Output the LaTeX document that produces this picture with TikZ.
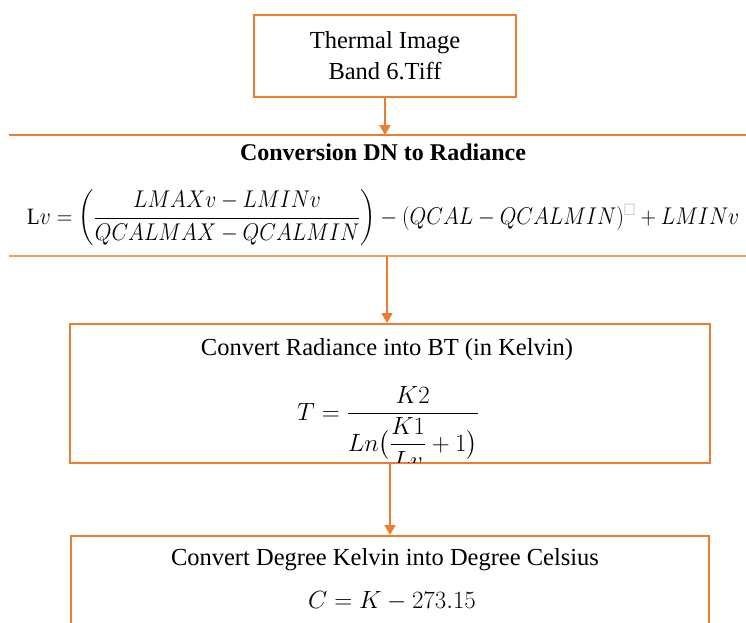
\documentclass[tikz,border=0pt]{standalone}
\usepackage{amsmath,amssymb}
\usepackage{fontspec}
\setmainfont{Liberation Serif}
\usetikzlibrary{arrows.meta}
\definecolor{orng}{HTML}{ED7D31}
\begin{document}
\begin{tikzpicture}[x=1pt,y=-1pt,
  boxline/.style={draw=orng, line width=1.8pt},
  thinline/.style={draw=orng!75, line width=1.3pt},
  flow/.style={draw=orng, line width=1.6pt, -{Triangle[length=10pt,width=11pt]}},
  txt/.style={font=\fontsize{24.5}{31}\selectfont, align=center, inner sep=0pt},
  mth/.style={font=\fontsize{24}{29}\selectfont, inner sep=0pt},
]
\useasboundingbox (0,0) rectangle (746,622);
\fill[white] (0,0) rectangle (746,622);

% box 1
\node[boxline, minimum width=262pt, minimum height=82pt, inner sep=0pt] (b1) at (385,56) {};
\node[txt] (t1) at (385,56) {Thermal Image\\Band 6.Tiff};

% box 2 (only horizontal lines visible)
\coordinate (b2top) at (385,135);
\coordinate (b2bot) at (387,256);
\draw[boxline] (9,135) -- (750,135);
\draw[thinline] (9,256) -- (750,256);
\node[txt, font=\fontsize{24}{28}\selectfont\bfseries] (t2) at (383,152) {Conversion DN to Radiance};
\node[mth, anchor=west] (f2) at (27,218)
  {\scalebox{1}[1.12]{\resizebox{712pt}{!}{$\mathrm{L}v = \left(\dfrac{LMAXv - LMINv}{QCALMAX - QCALMIN}\right) - (QCAL - QCALMIN)^{\textcolor{gray!60}{\square}} + LMINv$}}};

% box 3
\node[boxline, minimum width=640pt, minimum height=139pt, inner sep=0pt] (b3) at (390,393.5) {};
\begin{scope}
\clip (70,324) rectangle (710,462);
\node[txt] (t3) at (387,350) {Convert Radiance into BT (in Kelvin)};
\node[mth, anchor=north] (f3) at (388,386) {$T = \dfrac{K2}{Ln\bigl(\dfrac{K1}{Lv} + 1\bigr)}$};
\end{scope}

% box 4
\node[boxline, minimum width=638pt, minimum height=140pt, inner sep=0pt, anchor=north] (b4) at (390,535) {};
\node[txt] (t4) at (385,560) {Convert Degree Kelvin into Degree Celsius};
\node[mth] (f4) at (392,601) {$C = K - 273.15$};

% connectors
\draw[flow] (b1.south) -- (b2top);
\draw[flow] (b2bot) -- (b3.north -| b2bot);
\draw[flow] (b3.south) -- (b4.north);
\end{tikzpicture}
\end{document}
